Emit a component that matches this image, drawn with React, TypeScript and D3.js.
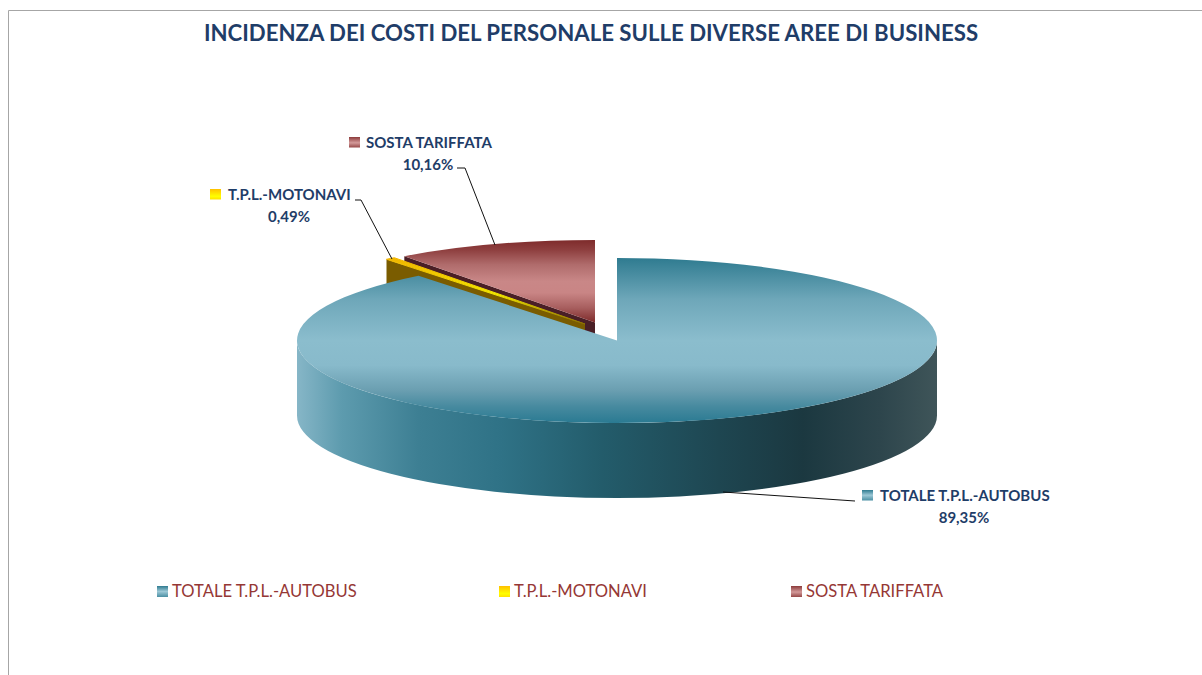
import React from "react";
import * as d3 from "d3";

const categories = ["TOTALE T.P.L.-AUTOBUS", "T.P.L.-MOTONAVI", "SOSTA TARIFFATA"];
const values = [89.35, 0.49, 10.16];
const percentLabels = ["89,35%", "0,49%", "10,16%"];
const title = "INCIDENZA DEI COSTI DEL PERSONALE SULLE DIVERSE AREE DI BUSINESS";

const width = 1202;
const height = 675;
const cx = 617;
const cy = 340.5;
const rx = 320;
const ry = 82.5;
const depth = 75;
const font = "Lato, Carlito, sans-serif";
const navy = "#1f3d68";
const legendRed = "#953735";

// how far each slice is pulled out of the pie, and where its callout sits
const offsets = [[0, 0], [-32, -16.5], [-22, -18]];
const topFills = ["url(#blueTop)", "url(#yellowTop)", "url(#redTop)"];
const wallFills = ["url(#blueSide)", "#7a5c00", "#4a1f26"];
const swatchFills = ["url(#blueSwatch)", "url(#yellowSwatch)", "url(#redSwatch)"];
const calloutX = [[862, 880, 964], [210, 228, 289], [349, 366, 428]];
const calloutY = [501, 200, 148];
const leaders = [
  [[855, 501], [723, 492]],
  [[355, 200], [361, 200], [392, 259]],
  [[457, 168], [465, 168], [495, 245]],
];
const legendX = [157, 499, 791];

const slices = d3.pie<number>().sort(null).startAngle(0).endAngle(2 * Math.PI)(values);
const arc = d3.arc<d3.PieArcDatum<number>>().innerRadius(0).outerRadius(rx);
const line = d3.line();

const rim = (angle: number, i: number): [number, number] => [
  cx + offsets[i][0] + rx * Math.sin(angle),
  cy + offsets[i][1] - ry * Math.cos(angle),
];

// outer wall, only the part that faces the viewer
function outerWall(s: d3.PieArcDatum<number>, i: number) {
  const a = Math.max(s.startAngle, Math.PI / 2);
  const b = Math.min(s.endAngle, (3 * Math.PI) / 2);
  if (b <= a) return null;
  const [x0, y0] = rim(a, i);
  const [x1, y1] = rim(b, i);
  return `M${x0},${y0}A${rx},${ry} 0 0 1 ${x1},${y1}L${x1},${y1 + depth}A${rx},${ry} 0 0 0 ${x0},${y0 + depth}Z`;
}

// cut face along the slice's first edge
function cutFace(s: d3.PieArcDatum<number>, i: number) {
  const [x0, y0] = rim(s.startAngle, i);
  const ax = cx + offsets[i][0];
  const ay = cy + offsets[i][1];
  return line([[x0, y0], [ax, ay], [ax, ay + depth], [x0, y0 + depth]]) + "Z";
}

function Stops({ stops }: { stops: [number, string][] }) {
  return (
    <>
      {stops.map(([o, c]) => (
        <stop key={o} offset={o} stopColor={c} />
      ))}
    </>
  );
}

function Slice({ index }: { index: number }) {
  const s = slices[index];
  const wall = outerWall(s, index);
  // the motonavi wedge is very thin, a hairline keeps it visible
  const edge = index === 1 ? { stroke: topFills[1], strokeWidth: 1, vectorEffect: "non-scaling-stroke" } : {};
  return (
    <g>
      {index > 0 && <path d={cutFace(s, index)} fill={wallFills[index]} />}
      {wall && <path d={wall} fill={wallFills[index]} />}
      <g transform={`translate(${cx + offsets[index][0]},${cy + offsets[index][1]}) scale(1,${ry / rx})`}>
        <path d={arc(s) ?? ""} fill={topFills[index]} {...edge} />
      </g>
    </g>
  );
}

export default function App() {
  return (
    <svg width={width} height={height} style={{ position: "absolute", left: 0, top: 0 }} fontFamily={font}>
      <defs>
        <linearGradient id="blueTop" x1="0" y1="0" x2="0" y2="1">
          <Stops stops={[[0, "#2f7b90"], [0.25, "#6ea7b9"], [0.5, "#8bbdcd"], [0.65, "#88bacb"], [0.8, "#6b9fb1"], [0.9, "#478a9f"], [1, "#2a7a92"]]} />
        </linearGradient>
        <linearGradient id="blueSide" gradientUnits="userSpaceOnUse" x1="297" y1="0" x2="937" y2="0">
          <Stops stops={[[0, "#86b6c7"], [0.07, "#5d9bae"], [0.19, "#3d7f93"], [0.32, "#2f7286"], [0.475, "#235c6b"], [0.66, "#1e4651"], [0.79, "#1b3840"], [0.91, "#2d454c"], [1, "#3f5559"]]} />
        </linearGradient>
        <linearGradient id="redTop" x1="0" y1="0" x2="0" y2="1">
          <Stops stops={[[0, "#7e2b2b"], [0.12, "#8e3f3f"], [0.3, "#b06c6c"], [0.5, "#c98787"], [0.64, "#c98585"], [0.82, "#a85f5f"], [1, "#7e2b2b"]]} />
        </linearGradient>
        <linearGradient id="yellowTop" x1="0" y1="0" x2="0" y2="1">
          <Stops stops={[[0, "#f0b400"], [0.55, "#f2e600"], [1, "#8c7000"]]} />
        </linearGradient>
        <linearGradient id="blueSwatch" x1="0" y1="0" x2="0" y2="1">
          <Stops stops={[[0, "#2f7b90"], [0.5, "#9cc8d6"], [1, "#4a8fa3"]]} />
        </linearGradient>
        <linearGradient id="yellowSwatch" x1="0" y1="0" x2="0" y2="1">
          <Stops stops={[[0, "#ffc000"], [0.7, "#ffff00"], [1, "#ffe000"]]} />
        </linearGradient>
        <linearGradient id="redSwatch" x1="0" y1="0" x2="0" y2="1">
          <Stops stops={[[0, "#8c3a3a"], [0.55, "#d39a9a"], [1, "#964848"]]} />
        </linearGradient>
      </defs>

      <path d={`M8.5,${height}V10.5H${width}`} fill="none" stroke="#a6a6a6" />

      <text x={591} y={41} textAnchor="middle" fontSize={22.2} fontWeight={700} fill={navy}>
        {title}
      </text>

      {/* back slices first, the big slice covers what it hides */}
      <Slice index={2} />
      <Slice index={1} />
      <Slice index={0} />

      {leaders.map((pts, i) => (
        <path key={i} d={line(pts as [number, number][]) ?? ""} fill="none" stroke="#111" strokeWidth={1} />
      ))}

      {categories.map((c, i) => (
        <g key={c} fontSize={15} fontWeight={700} fill={navy}>
          <rect x={calloutX[i][0]} y={calloutY[i] - 11} width={11} height={10.5} fill={swatchFills[i]} />
          <text x={calloutX[i][1]} y={calloutY[i]}>{c}</text>
          <text x={calloutX[i][2]} y={calloutY[i] + 22} textAnchor="middle">{percentLabels[i]}</text>
        </g>
      ))}

      {categories.map((c, i) => (
        <g key={c}>
          <rect x={legendX[i]} y={586} width={11} height={11} fill={swatchFills[i]} />
          <text x={legendX[i] + 15} y={596.5} fontSize={16.6} fill={legendRed}>{c}</text>
        </g>
      ))}
    </svg>
  );
}
